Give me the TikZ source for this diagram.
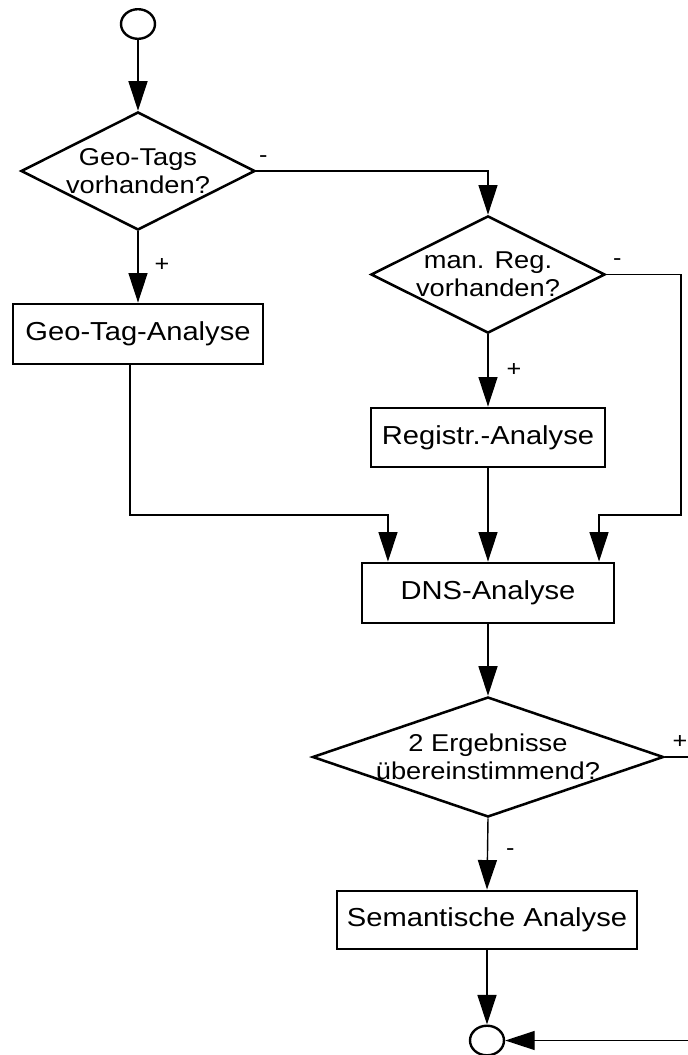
\documentclass[tikz,border=0pt]{standalone}
\usepackage{fontspec}
\setmainfont[FakeStretch=1.12]{Liberation Sans}
\usepackage{tikz}
\usetikzlibrary{arrows.meta,positioning,calc,shapes.geometric}
\tikzset{procbox/.style={draw, line width=2pt, inner sep=0pt, font=\fontsize{18.5pt}{20.5pt}\selectfont}}
\tikzset{decision/.style={diamond, draw, line width=1.8pt, inner sep=0pt}}
\tikzset{dtext/.style={align=center, inner sep=0pt, font=\fontsize{17.3pt}{20pt}\selectfont}}
\tikzset{terminal/.style={ellipse, draw, line width=1.7pt, inner sep=0pt, minimum width=0.85cm, minimum height=0.74cm}}
\tikzset{arr/.style={draw, line width=1pt, -{Triangle[length=21pt, width=13.5pt]}}}
\tikzset{lbl/.style={inner sep=0pt, font=\fontsize{16pt}{18pt}\selectfont}}

\begin{document}
\begin{tikzpicture}[x=0.025cm, y=-0.025cm]
		\useasboundingbox (0,0) rectangle (688,1055);
		
		\node[terminal] (start) at (138,24){};
		
		\node[decision, minimum width=5.85cm, minimum height=2.95cm, label={[dtext]center:Geo-Tags\\vorhanden?}] (geotags) at (138,171){};
		
		\node[procbox, minimum width=6.25cm, minimum height=1.5cm] (geoana) at (138,334){Geo-Tag-Analyse};
		
		\node[decision, minimum width=5.85cm, minimum height=2.93cm, label={[dtext]center:man. Reg.\\vorhanden?}] (manreg) at (488,274.5){};
		
		\node[procbox, minimum width=5.85cm, minimum height=1.475cm] (regana) at (488,437.5){Registr.-Analyse};
		
		\node[procbox, minimum width=6.3cm, minimum height=1.5cm] (dns) at (488,593){DNS-Analyse};
		
		\node[decision, minimum width=8.775cm, minimum height=3cm, label={[dtext]center:2 Ergebnisse\\übereinstimmend?}] (match) at (488,757){};
		
		\node[procbox, minimum width=7.5cm, minimum height=1.45cm] (semana) at (487,920){Semantische Analyse};
		
		\node[terminal] (stop) at (487,1040.5){};
		
		% bends
		\coordinate (merge) at (681,515);
		\coordinate (inL) at ([xshift=-2.5cm]dns.north);
		\coordinate (inR) at ([xshift=2.775cm]dns.north);
		\coordinate (edge) at (692,757);
		
		\draw[arr] (start.south) -- (geotags.north);
		\draw[arr] (geotags.south) -- node[lbl, pos=0.47, right=0.4cm]{+} (geoana.north);
		\draw[arr] (geotags.east) -| node[lbl, pos=0, anchor=south west, xshift=0.05cm, yshift=0.2cm]{-} (manreg.north);
		\draw[arr] (manreg.south) -- node[lbl, pos=0.49, right=0.45cm]{+} (regana.north);
		\draw[arr] (manreg.east) -| node[lbl, pos=0, anchor=south west, xshift=0.15cm, yshift=0.22cm]{-} (merge) -| (inR);
		\draw[arr] ([xshift=-0.2cm]geoana.south) |- (inL |- merge) -- (inL);
		\draw[arr] (regana.south) -- (dns.north);
		\draw[arr] (dns.south) -- (match.north);
		\draw[arr] (match.south) -- node[lbl, pos=0.47, right=0.45cm]{-} (semana.north);
		\draw[arr] (match.east) -- node[lbl, pos=0, anchor=south west, xshift=0.18cm, yshift=0.2cm]{+} (edge) |- (stop.east);
		\draw[arr] (semana.south) -- (stop.north);
	\end{tikzpicture}
\end{document}
